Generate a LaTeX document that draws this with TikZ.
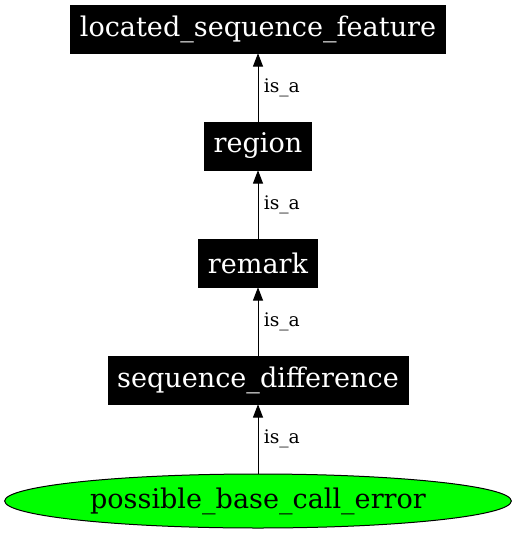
\documentclass[tikz,border=0pt]{standalone}
\usepackage{fontspec}
\setmainfont{DejaVu Serif}
\usetikzlibrary{arrows.meta,positioning,shapes.geometric}
\tikzset{
  term/.style={
    rectangle,fill=black,draw=black,text=white,
    minimum height=36pt,inner xsep=7pt,
    font=\fontsize{20.3}{23}\selectfont
  },
  leaf/.style={
    ellipse,fill=green,draw=black,line width=0.75pt,
    minimum width=380pt,minimum height=40.5pt,inner sep=0pt,
    font=\fontsize{20.3}{23}\selectfont
  },
  isa/.style={-{Triangle[length=10pt,width=7.5pt]},line width=0.75pt,draw=black},
  lbl/.style={font=\fontsize{14}{16}\selectfont,right,inner sep=4pt}
}

\begin{document}
\begin{tikzpicture}[x=0.75pt,y=-0.75pt]
  \useasboundingbox (0,0) rectangle (517,536);
  \node[term] (lsf) at (258,29) {located\_sequence\_feature};
  \node[term] (reg) at (258,146) {region};
  \node[term] (rem) at (258,263) {remark};
  \node[term] (sdf) at (258,380) {sequence\_difference};
  \node[leaf] (pbe) at (258,501) {possible\_base\_call\_error};
  \draw[isa] (reg) -- node[lbl] {is\_a} (lsf);
  \draw[isa] (rem) -- node[lbl] {is\_a} (reg);
  \draw[isa] (sdf) -- node[lbl] {is\_a} (rem);
  \draw[isa] (pbe) -- node[lbl] {is\_a} (sdf);
\end{tikzpicture}
\end{document}
